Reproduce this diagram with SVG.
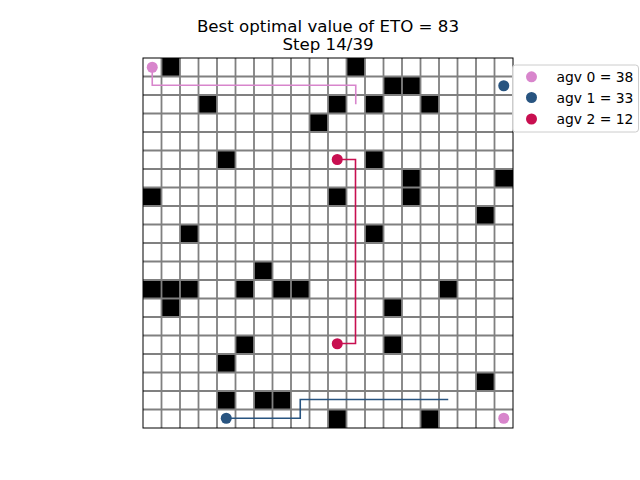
<svg xmlns="http://www.w3.org/2000/svg" width="640" height="480" viewBox="0 0 640 480">
<style>
text{font-family:"DejaVu Sans","Liberation Sans",sans-serif;fill:#000}
.title{font-size:16.67px;text-anchor:middle}
.leg{font-size:13.9px}
.obs{fill:#000}
.grid{stroke:#808080;stroke-width:1.8;fill:none}
.path{fill:none;stroke-width:1.6;stroke-linejoin:miter}
</style>
<rect width="640" height="480" fill="#fff"/>
<text class="title" x="328" y="32"><tspan x="328" y="32">Best optimal value of ETO = 83</tspan><tspan x="328" y="49.5">Step 14/39</tspan></text>
<g id="board">
<rect x="143" y="58" width="370" height="370" fill="#fff"/>
<g id="obstacles" class="obs">
<rect x="161.5" y="58" width="18.5" height="18.5"/>
<rect x="346.5" y="58" width="18.5" height="18.5"/>
<rect x="383.5" y="76.5" width="18.5" height="18.5"/>
<rect x="402" y="76.5" width="18.5" height="18.5"/>
<rect x="198.5" y="95" width="18.5" height="18.5"/>
<rect x="328" y="95" width="18.5" height="18.5"/>
<rect x="365" y="95" width="18.5" height="18.5"/>
<rect x="420.5" y="95" width="18.5" height="18.5"/>
<rect x="309.5" y="113.5" width="18.5" height="18.5"/>
<rect x="217" y="150.5" width="18.5" height="18.5"/>
<rect x="365" y="150.5" width="18.5" height="18.5"/>
<rect x="402" y="169" width="18.5" height="18.5"/>
<rect x="494.5" y="169" width="18.5" height="18.5"/>
<rect x="143" y="187.5" width="18.5" height="18.5"/>
<rect x="328" y="187.5" width="18.5" height="18.5"/>
<rect x="402" y="187.5" width="18.5" height="18.5"/>
<rect x="476" y="206" width="18.5" height="18.5"/>
<rect x="180" y="224.5" width="18.5" height="18.5"/>
<rect x="365" y="224.5" width="18.5" height="18.5"/>
<rect x="254" y="261.5" width="18.5" height="18.5"/>
<rect x="143" y="280" width="18.5" height="18.5"/>
<rect x="161.5" y="280" width="18.5" height="18.5"/>
<rect x="180" y="280" width="18.5" height="18.5"/>
<rect x="235.5" y="280" width="18.5" height="18.5"/>
<rect x="272.5" y="280" width="18.5" height="18.5"/>
<rect x="291" y="280" width="18.5" height="18.5"/>
<rect x="439" y="280" width="18.5" height="18.5"/>
<rect x="161.5" y="298.5" width="18.5" height="18.5"/>
<rect x="383.5" y="298.5" width="18.5" height="18.5"/>
<rect x="235.5" y="335.5" width="18.5" height="18.5"/>
<rect x="383.5" y="335.5" width="18.5" height="18.5"/>
<rect x="217" y="354" width="18.5" height="18.5"/>
<rect x="476" y="372.5" width="18.5" height="18.5"/>
<rect x="217" y="391" width="18.5" height="18.5"/>
<rect x="254" y="391" width="18.5" height="18.5"/>
<rect x="272.5" y="391" width="18.5" height="18.5"/>
<rect x="328" y="409.5" width="18.5" height="18.5"/>
<rect x="420.5" y="409.5" width="18.5" height="18.5"/>
</g>
<path id="gridlines" class="grid" d="M161.5 58V428M180 58V428M198.5 58V428M217 58V428M235.5 58V428M254 58V428M272.5 58V428M291 58V428M309.5 58V428M328 58V428M346.5 58V428M365 58V428M383.5 58V428M402 58V428M420.5 58V428M439 58V428M457.5 58V428M476 58V428M494.5 58V428M143 76.5H513M143 95H513M143 113.5H513M143 132H513M143 150.5H513M143 169H513M143 187.5H513M143 206H513M143 224.5H513M143 243H513M143 261.5H513M143 280H513M143 298.5H513M143 317H513M143 335.5H513M143 354H513M143 372.5H513M143 391H513M143 409.5H513"/>
<rect x="143" y="58" width="370" height="370" fill="none" stroke="#000" stroke-width="1"/>
</g>
<g id="connectors">
<path class="path" stroke="#d885cc" d="M152.25 67.25V85.25H355.75V104.25"/>
<path class="path" stroke="#285480" d="M226.25 418.25H300.25V399.5H448.25"/>
<path class="path" stroke="#c80f50" d="M337.25 159.5H355.5V343.5H337.25"/>
</g>
<g id="agv0">
<circle cx="152.25" cy="67.25" r="5.5" fill="#d885cc"/>
<circle cx="503.75" cy="418.25" r="5.5" fill="#d885cc"/>
</g>
<g id="agv1">
<circle cx="503.75" cy="85.75" r="5.5" fill="#285480"/>
<circle cx="226.25" cy="418.25" r="5.5" fill="#285480"/>
</g>
<g id="agv2">
<circle cx="337.25" cy="159.5" r="5.5" fill="#c80f50"/>
<circle cx="337.25" cy="343.75" r="5.5" fill="#c80f50"/>
</g>
<g id="legend">
<rect x="512.5" y="65" width="126" height="67" rx="3" fill="#fff" fill-opacity="0.8" stroke="#cccccc" stroke-width="1"/>
<circle cx="531.5" cy="76.8" r="5.5" fill="#d885cc"/>
<circle cx="531.5" cy="97.5" r="5.5" fill="#285480"/>
<circle cx="531.5" cy="119" r="5.5" fill="#c80f50"/>
<text class="leg" x="556.5" y="81.8">agv 0 = 38</text>
<text class="leg" x="556.5" y="102.5">agv 1 = 33</text>
<text class="leg" x="556.5" y="124">agv 2 = 12</text>
</g>
</svg>
